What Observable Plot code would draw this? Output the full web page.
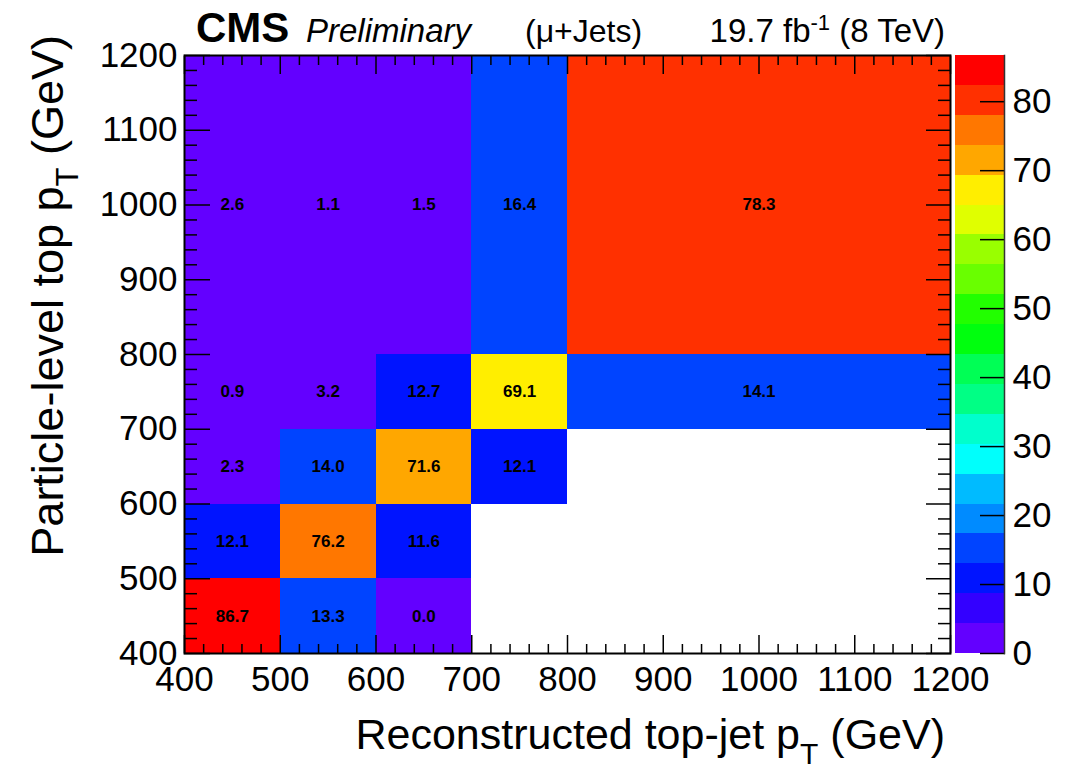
<!DOCTYPE html>
<html>
<head>
<meta charset="utf-8">
<script src="https://cdn.jsdelivr.net/npm/d3@7"></script>
<script src="https://cdn.jsdelivr.net/npm/@observablehq/plot@0.6"></script>
<style>
  body { margin: 0; background: #fff; }
  #chart { position: relative; width: 1075px; height: 769px; }
  #chart svg { position: absolute; top: 0; }
</style>
</head>
<body>
<div id="chart"></div>
<script>
// Bin edges (GeV): reconstructed top-jet pT on x, particle-level top pT on y
const recoEdges = [400, 500, 600, 700, 800, 1200];
const partEdges = [400, 500, 600, 700, 800, 1200];

// Migration percentages, one array per particle-level bin (null = empty bin)
const row400to500  = [86.7, 13.3, 0.0, null, null];
const row500to600  = [12.1, 76.2, 11.6, null, null];
const row600to700  = [2.3, 14.0, 71.6, 12.1, null];
const row700to800  = [0.9, 3.2, 12.7, 69.1, 14.1];
const row800to1200 = [2.6, 1.1, 1.5, 16.4, 78.3];
const rows = [row400to500, row500to600, row600to700, row700to800, row800to1200];

// Axis ticks
const axisTicks = [400, 500, 600, 700, 800, 900, 1000, 1100, 1200];
const zTicks = [0, 10, 20, 30, 40, 50, 60, 70, 80];

// Colour scale: 20 contour levels between 0 and the maximum bin content
const zMax = 86.7;
const nLevels = 20;
const palette = [
  "#6300ff", "#3300ff", "#0014ff", "#0044ff", "#008bff",
  "#00bbff", "#00fffc", "#00ffcc", "#00ff85", "#00ff55",
  "#00ff0e", "#22ff00", "#69ff00", "#99ff00", "#e0ff00",
  "#ffee00", "#ffa700", "#ff7700", "#ff3000", "#ff0000"
];

const FONT = '"Liberation Sans", Arial, Helvetica, sans-serif';
const TICK_FONT = 35;

// Build the table of filled cells
const cells = [];
rows.forEach((row, j) => {
  row.forEach((v, i) => {
    if (v === null) return;
    cells.push({x1: recoEdges[i], x2: recoEdges[i + 1], y1: partEdges[j], y2: partEdges[j + 1], v});
  });
});

const thresholds = d3.range(1, nLevels).map(k => k * zMax / nLevels);
const bands = d3.range(nLevels).map(k => ({lo: k * zMax / nLevels, hi: (k + 1) * zMax / nLevels}));
const colorScale = {type: "threshold", domain: thresholds, range: palette};

const minorTicks = d3.range(400, 1201, 20).filter(t => t % 100 !== 0);
const fmt = d => String(d);
const blank = () => "";

const main = Plot.plot({
  width: 1075,
  height: 769,
  marginLeft: 184,
  marginRight: 125,
  marginTop: 55,
  marginBottom: 116,
  style: {fontFamily: FONT, fontSize: TICK_FONT + "px", background: "transparent", color: "black", overflow: "visible"},
  x: {domain: [400, 1200]},
  y: {domain: [400, 1200]},
  color: colorScale,
  marks: [
    Plot.rect(cells, {x1: "x1", x2: "x2", y1: "y1", y2: "y2", fill: "v", shapeRendering: "crispEdges"}),
    Plot.text(cells, {
      x: d => (d.x1 + d.x2) / 2,
      y: d => (d.y1 + d.y2) / 2,
      text: d => d.v.toFixed(1),
      fontWeight: "bold",
      fontSize: 17,
      fill: "black"
    }),
    // inward ticks on all four sides
    Plot.axisX(axisTicks, {anchor: "bottom", tickSize: -18, tickPadding: 31, tickFormat: fmt, label: null, fontSize: TICK_FONT, strokeWidth: 1.5}),
    Plot.axisX(minorTicks, {anchor: "bottom", tickSize: -9, tickFormat: blank, label: null, strokeWidth: 1.5}),
    Plot.axisX(axisTicks, {anchor: "top", tickSize: -18, tickFormat: blank, label: null, strokeWidth: 1.5}),
    Plot.axisX(minorTicks, {anchor: "top", tickSize: -9, tickFormat: blank, label: null, strokeWidth: 1.5}),
    Plot.axisY(axisTicks, {anchor: "left", tickSize: -26, tickPadding: 33, tickFormat: fmt, label: null, fontSize: TICK_FONT, strokeWidth: 1.5}),
    Plot.axisY(minorTicks, {anchor: "left", tickSize: -13, tickFormat: blank, label: null, strokeWidth: 1.5}),
    Plot.axisY(axisTicks, {anchor: "right", tickSize: -25, tickFormat: blank, label: null, strokeWidth: 1.5}),
    Plot.axisY(minorTicks, {anchor: "right", tickSize: -13, tickFormat: blank, label: null, strokeWidth: 1.5}),
    Plot.frame({stroke: "black", strokeWidth: 2})
  ]
});

const bar = Plot.plot({
  width: 120,
  height: 769,
  marginLeft: 0,
  marginRight: 71,
  marginTop: 55,
  marginBottom: 116,
  style: {fontFamily: FONT, fontSize: TICK_FONT + "px", background: "transparent", color: "black", overflow: "visible"},
  y: {domain: [0, zMax]},
  color: colorScale,
  marks: [
    Plot.rect(bands, {y1: "lo", y2: "hi", fill: d => (d.lo + d.hi) / 2, shapeRendering: "crispEdges"}),
    Plot.axisY(zTicks, {anchor: "right", tickSize: -25, tickPadding: 33, tickFormat: fmt, label: null, fontSize: TICK_FONT, strokeWidth: 1.5}),
    Plot.frame({anchor: "right", stroke: "#333", strokeWidth: 1.5})
  ]
});
bar.style.left = "955px";
main.style.left = "0px";

const chart = document.getElementById("chart");
chart.appendChild(main);
chart.appendChild(bar);

// Header and axis titles
const svg = d3.select(main);
const txt = (x, y) => svg.append("text").attr("x", x).attr("y", y)
  .attr("font-family", FONT).attr("fill", "black").attr("text-anchor", "start");

txt(196, 42).attr("font-size", 42).attr("font-weight", "bold").text("CMS");
txt(306, 42).attr("font-size", 33).attr("font-style", "italic").text("Preliminary");
txt(525, 42).attr("font-size", 32).text("(\u03bc+Jets)");
const lumi = txt(945, 42).attr("font-size", 33).attr("text-anchor", "end");
lumi.append("tspan").text("19.7 fb");
lumi.append("tspan").attr("font-size", 22).attr("dy", -12).text("-1");
lumi.append("tspan").attr("dy", 12).text(" (8 TeV)");

const xTitle = txt(945, 749).attr("font-size", 43).attr("text-anchor", "end");
xTitle.append("tspan").text("Reconstructed top-jet p");
xTitle.append("tspan").attr("font-size", 30).attr("dy", 15).text("T");
xTitle.append("tspan").attr("dy", -15).text(" (GeV)");

const yTitle = svg.append("text")
  .attr("transform", "translate(63,35) rotate(-90)")
  .attr("font-family", FONT).attr("fill", "black")
  .attr("font-size", 45).attr("text-anchor", "end");
yTitle.append("tspan").text("Particle-level top p");
yTitle.append("tspan").attr("font-size", 31).attr("dy", 15).text("T");
yTitle.append("tspan").attr("dy", -15).text(" (GeV)");
</script>
</body>
</html>
